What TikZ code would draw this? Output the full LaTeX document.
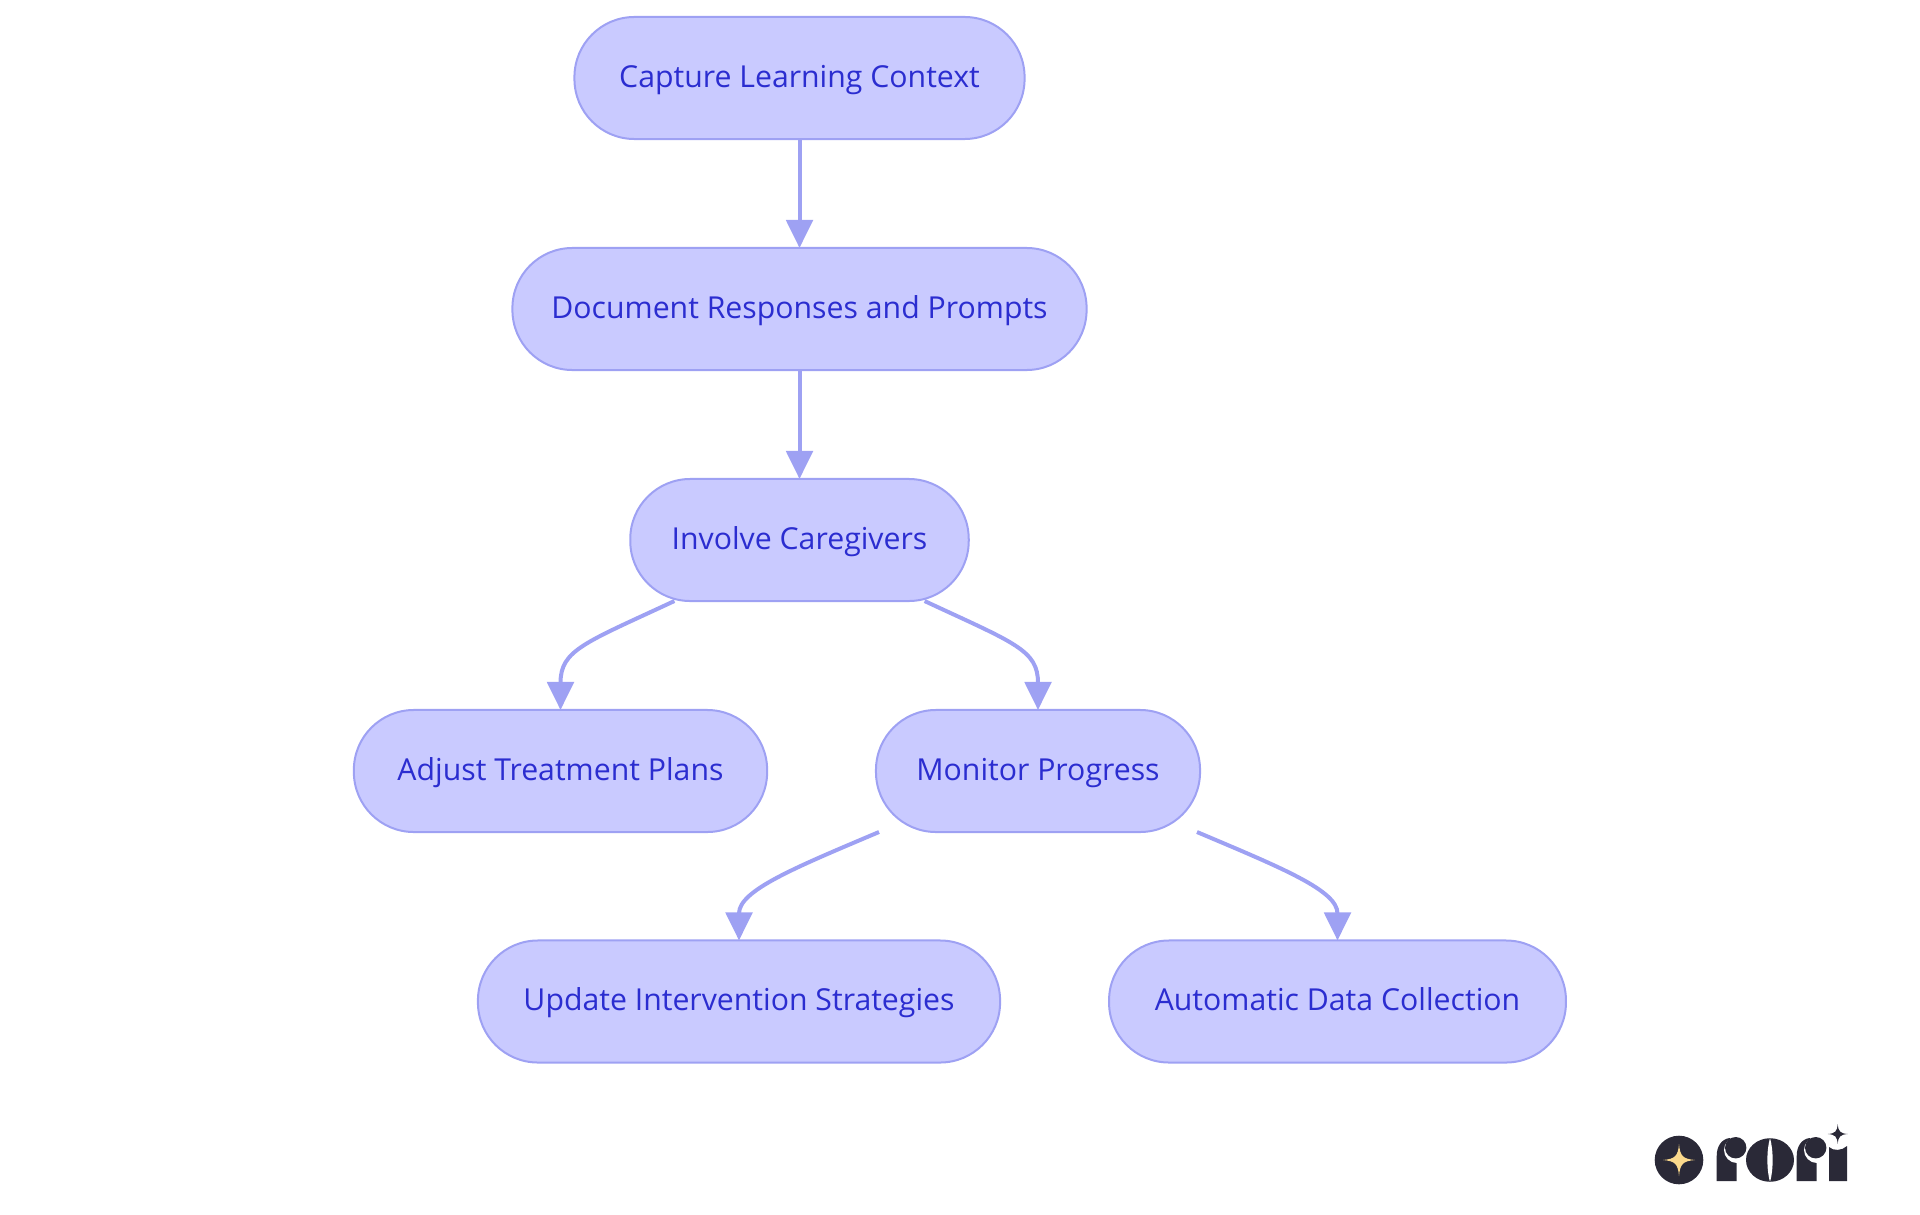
\documentclass[tikz,border=0pt]{standalone}
\usepackage{fontspec}
\setmainfont{Open Sans}
\usetikzlibrary{arrows.meta}
\definecolor{boxfill}{HTML}{C9CAFF}
\definecolor{boxline}{HTML}{9EA1F3}
\definecolor{boxtext}{HTML}{2B2DD0}
\definecolor{logodark}{HTML}{2A2937}
\definecolor{logostar}{HTML}{FBD98C}
\tikzset{
  flowbox/.style={draw=boxline,fill=boxfill,text=boxtext,line width=0.05cm,rounded corners=1.5cm,
    minimum height=3.05cm,inner sep=0pt,outer sep=0pt,text height=0.6cm,text depth=0.15cm,
    font=\fontsize{21.5}{26}\selectfont},
  flowline/.style={draw=boxline,line width=0.1cm,-{Triangle[length=0.7cm,width=0.66cm]}},
}
\newcommand{\logostar}[3]{\fill[#3] (#1,#2-16) .. controls +(1,12) and +(-12,-1) .. ++(16,16) .. controls +(-12,1) and +(1,-12) .. ++(-16,16) .. controls +(-1,-12) and +(12,1) .. ++(-16,-16) .. controls +(12,-1) and +(-1,12) .. cycle;}
\newcommand{\logor}[1]{
\fill[logodark] (#1,1181) -- (#1,1156) .. controls (#1,1146) and (#1+5,1139) .. (#1+13,1138) -- (#1+20,1150) -- (#1+20,1181) -- cycle;
\fill[white] (#1+20.3,1150) circle (13);
\fill[logodark] (#1+19,1147.7) circle (10.7);
}
\begin{document}
\begin{tikzpicture}[x=0.025cm,y=-0.025cm]
\useasboundingbox (0,0) rectangle (1920,1215);
% flow boxes
\node[flowbox,minimum width=11.25cm] (capture) at (799.5,78) {Capture Learning Context};
\node[flowbox,minimum width=14.35cm] (document) at (799.5,309) {Document Responses and Prompts};
\node[flowbox,minimum width=8.46cm] (involve) at (799.5,540) {Involve Caregivers};
\node[flowbox,minimum width=10.33cm] (adjust) at (560.5,771) {Adjust Treatment Plans};
\node[flowbox,minimum width=8.1cm] (monitor) at (1038,771) {Monitor Progress};
\node[flowbox,minimum width=13.05cm] (update) at (739,1001.5) {Update Intervention Strategies};
\node[flowbox,minimum width=11.42cm] (automatic) at (1337.5,1001.5) {Automatic Data Collection};
% connectors
\draw[flowline] (capture) -- (document);
\draw[flowline] (document) -- (involve);
\draw[flowline] (involve.206.5) .. controls +(-90,42) and +(0,-60) .. (adjust.north);
\draw[flowline] (involve.334) .. controls +(90,42) and +(0,-60) .. (monitor.north);
\draw[flowline] (monitor.201) .. controls +(-85,36) and +(0,-50) .. (update.north);
\draw[flowline] (monitor.339) .. controls +(85,36) and +(0,-50) .. (automatic.north);
% logo
\fill[logodark] (1679,1160) circle (24.3);
\logostar{1679}{1160}{logostar}
\logor{1716.7}
\fill[logodark] (1770,1160) ellipse (24 and 21.8);
\fill[white] (1770,1138) .. controls (1766.5,1150) and (1766.5,1170) .. (1770,1182) .. controls (1773.5,1170) and (1773.5,1150) .. (1770,1138) -- cycle;
\logor{1796.7}
\fill[logodark] (1829,1181) -- (1829,1147) .. controls (1833,1151) and (1842,1151) .. (1847,1146) -- (1847,1181) -- cycle;
\begin{scope}[shift={(1837.7,1134)},scale=0.62]
\logostar{0}{0}{logodark}
\end{scope}
\end{tikzpicture}
\end{document}
